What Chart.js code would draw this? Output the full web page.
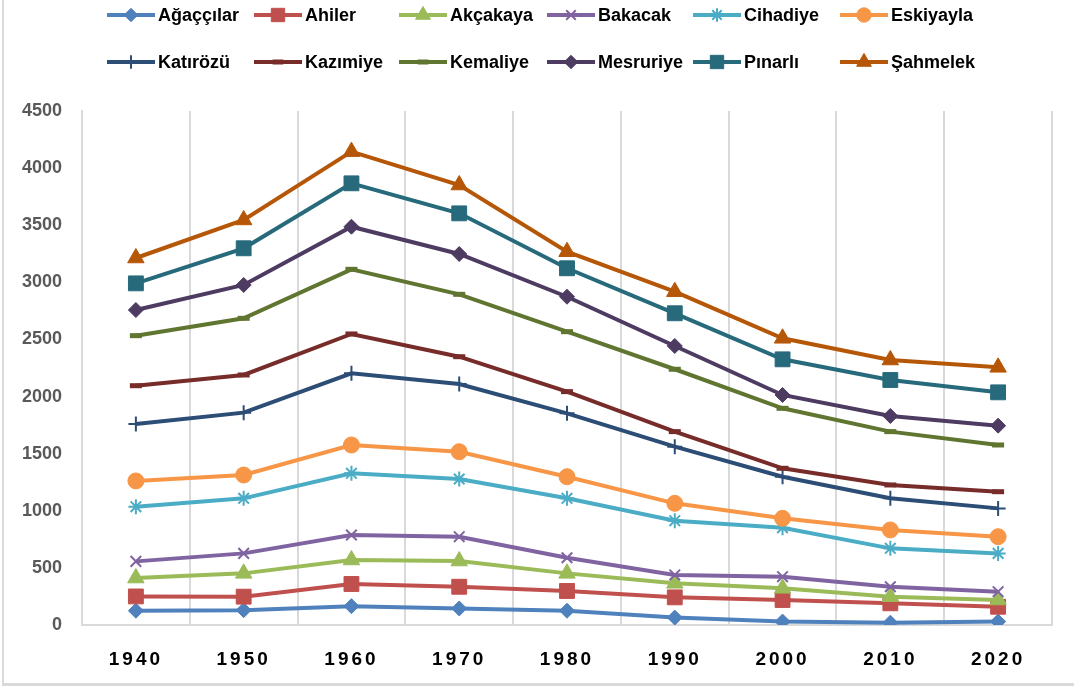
<!DOCTYPE html>
<html>
<head>
<meta charset="utf-8">
<script src="https://cdn.jsdelivr.net/npm/chart.js@4/dist/chart.umd.min.js"></script>
<style>
  html, body { margin: 0; padding: 0; background: #fff; }
  #wrap { position: relative; width: 1074px; height: 690px; }
  #frame {
    position: absolute; left: 2px; top: -4px; width: 1080px; height: 690px;
    border-left: 2px solid #d9d9d9; border-bottom: 3px solid #d9d9d9;
    box-sizing: border-box; pointer-events: none;
  }
</style>
</head>
<body>
<div id="wrap">
  <canvas id="chart" width="1074" height="690"></canvas>
  <div id="frame"></div>
</div>
<script>
// Yıllar (kategori ekseni)
const years = ["1940", "1950", "1960", "1970", "1980", "1990", "2000", "2010", "2020"];

// Seri adları
const names = ["Ağaççılar", "Ahiler", "Akçakaya", "Bakacak", "Cihadiye", "Eskiyayla",
               "Katırözü", "Kazımiye", "Kemaliye", "Mesruriye", "Pınarlı", "Şahmelek"];

// Değerler
const agaccilar = [125, 130, 165, 145, 125, 65, 30, 20, 30];
const ahiler    = [250, 248, 359, 335, 298, 242, 219, 190, 160];
const akcakaya  = [411, 452, 569, 560, 452, 365, 321, 248, 219];
const bakacak   = [557, 627, 788, 773, 589, 438, 423, 335, 292];
const cihadiye  = [1036, 1109, 1328, 1278, 1109, 913, 852, 671, 627];
const eskiyayla = [1261, 1313, 1576, 1517, 1298, 1065, 934, 832, 773];
const katirozu  = [1760, 1859, 2204, 2110, 1853, 1561, 1298, 1109, 1021];
const kazimiye  = [2095, 2189, 2548, 2349, 2043, 1693, 1372, 1226, 1167];
const kemaliye  = [2533, 2685, 3114, 2895, 2568, 2239, 1897, 1693, 1576];
const mesruriye = [2758, 2977, 3487, 3248, 2874, 2443, 2014, 1830, 1745];
const pinarli   = [2991, 3298, 3867, 3604, 3123, 2729, 2326, 2145, 2037];
const sahmelek  = [3213, 3546, 4144, 3852, 3268, 2918, 2510, 2320, 2256];

const seriesValues = [agaccilar, ahiler, akcakaya, bakacak, cihadiye, eskiyayla,
                      katirozu, kazimiye, kemaliye, mesruriye, pinarli, sahmelek];

// Görünüm
const colors = ["#4F81BD", "#C0504D", "#9BBB59", "#8064A2", "#4BACC6", "#F79646",
                "#2C4D75", "#772C2A", "#5F7530", "#4D3B62", "#276A7C", "#B65708"];
const markers = ["rectRot", "rect", "triangle", "crossRot", "star", "circle",
                 "cross", "line", "line", "rectRot", "rect", "triangle"];
const markerStyle = {
  rectRot:  { radius: 7.5, border: 1 },
  rect:     { radius: 10.5, border: 1 },
  triangle: { radius: 9.5, border: 1 },
  crossRot: { radius: 7.5, border: 2 },
  star:     { radius: 7.5, border: 2 },
  circle:   { radius: 8, border: 1 },
  cross:    { radius: 7.5, border: 2 },
  line:     { radius: 6, border: 5 },
};

const FONT = "'Liberation Sans', Arial, sans-serif";

const datasets = names.map((name, i) => {
  const m = markerStyle[markers[i]];
  return {
    label: name,
    data: seriesValues[i],
    borderColor: colors[i],
    backgroundColor: colors[i],
    borderWidth: 4,
    tension: 0,
    fill: false,
    pointStyle: markers[i],
    pointRadius: m.radius,
    pointBorderWidth: m.border,
    pointBackgroundColor: colors[i],
    pointBorderColor: colors[i],
    order: names.length - i,
  };
});

// Leyenda propia: 2 filas x 6 columnas
const legendCols = [107, 254, 399, 547, 693, 840];
const legendRows = [15, 62];

const legendPlugin = {
  id: "gridLegend",
  afterDraw(chart) {
    const ctx = chart.ctx;
    ctx.save();
    chart.data.datasets.forEach((ds, i) => {
      const x = legendCols[i % 6];
      const y = legendRows[Math.floor(i / 6)];
      ctx.strokeStyle = ds.borderColor;
      ctx.lineWidth = 4;
      ctx.beginPath();
      ctx.moveTo(x, y);
      ctx.lineTo(x + 48, y);
      ctx.stroke();
      ctx.fillStyle = ds.borderColor;
      ctx.lineWidth = ds.pointBorderWidth;
      Chart.helpers.drawPoint(ctx, {
        pointStyle: ds.pointStyle,
        radius: ds.pointRadius * 0.9,
        borderWidth: ds.pointBorderWidth,
        rotation: 0,
      }, x + 24, y);
      ctx.fillStyle = "#000";
      ctx.font = "bold 18px " + FONT;
      ctx.textBaseline = "middle";
      ctx.textAlign = "left";
      ctx.fillText(ds.label, x + 51, y + 1);
    });
    ctx.restore();
  },
};

// Espaciado de letras en las etiquetas del eje X
const spacedTicks = {
  id: "spacedTicks",
  beforeDraw(chart) {
    const xs = chart.scales.x;
    if (xs && !xs._spaced) {
      const orig = xs.drawLabels;
      xs.drawLabels = function (area) {
        this.ctx.save();
        this.ctx.letterSpacing = "3px";
        orig.call(this, area);
        this.ctx.restore();
      };
      xs._spaced = true;
    }
  },
};

new Chart(document.getElementById("chart").getContext("2d"), {
  type: "line",
  data: { labels: years, datasets: datasets },
  options: {
    responsive: false,
    animation: false,
    devicePixelRatio: 1,
    layout: { padding: { top: 111, right: 22, left: 0, bottom: 0 } },
    plugins: {
      legend: { display: false },
      tooltip: { enabled: false },
    },
    scales: {
      x: {
        offset: true,
        grid: {
          offset: true,
          display: true,
          color: "#d9d9d9",
          lineWidth: 2,
          drawTicks: false,
        },
        border: { display: true, color: "#d9d9d9", width: 2 },
        ticks: {
          color: "#000",
          padding: 23,
          font: { family: FONT, size: 19, weight: "bold" },
          maxRotation: 0,
        },
        afterFit(scale) { scale.height = 65; },
      },
      y: {
        min: 0,
        max: 4500,
        ticks: {
          stepSize: 500,
          color: "#595959",
          padding: 20,
          font: { family: FONT, size: 18, weight: "bold" },
          callback: (v) => String(v),
        },
        grid: { display: false, drawTicks: false },
        border: { display: true, color: "#d9d9d9", width: 2 },
        afterFit(scale) { scale.width = 82; },
      },
    },
  },
  plugins: [spacedTicks, legendPlugin],
});
</script>
</body>
</html>
